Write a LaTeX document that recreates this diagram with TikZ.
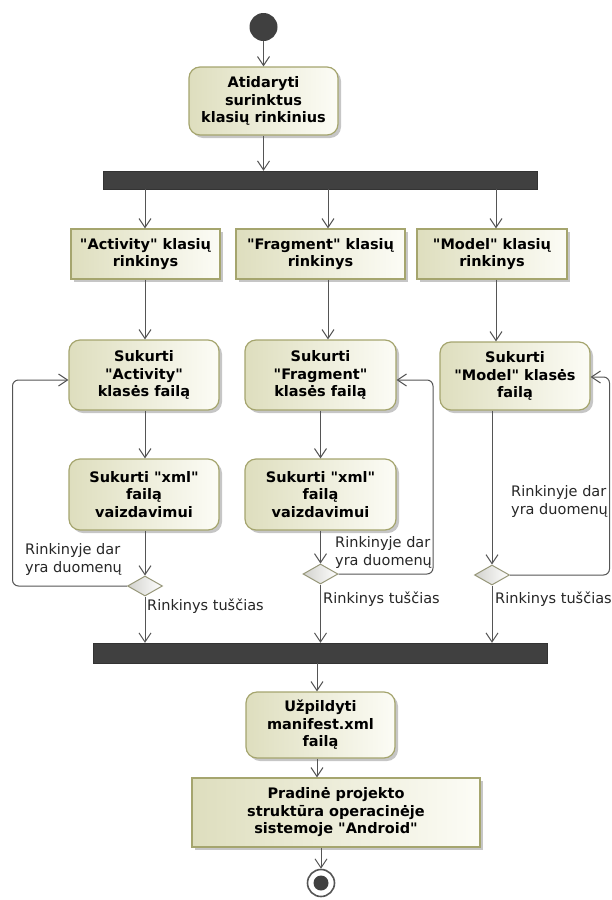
\documentclass[tikz,border=0pt]{standalone}
\usepackage{fontspec}
% plain straight quotes: no TeX ligature mapping on this family
\newfontfamily\diagfont{DejaVu Sans}
\usetikzlibrary{arrows.meta,shapes.geometric,shadows}

\definecolor{actL}{RGB}{222,222,190}
\definecolor{actR}{RGB}{252,252,246}
\definecolor{actLine}{RGB}{165,165,110}
\definecolor{lineGray}{RGB}{85,85,85}
\definecolor{barFill}{RGB}{64,64,64}
\definecolor{shadowGray}{RGB}{198,198,198}
\definecolor{decL}{RGB}{210,210,205}
\definecolor{decLine}{RGB}{150,150,120}

\tikzset{
  boxbase/.style={draw=actLine, line width=1.2pt, left color=actL, right color=actR,
    inner sep=0pt, align=center, text=black,
    font=\diagfont\bfseries\fontsize{14.5}{17.5}\selectfont,
    drop shadow={shadow xshift=3pt, shadow yshift=-3pt, fill=shadowGray, opacity=1}},
  action/.style={boxbase, rounded corners=11pt},
  objbox/.style={boxbase},
  syncbar/.style={fill=barFill, draw=barFill!80!black, inner sep=0pt},
  decision/.style={diamond, draw=decLine, line width=1pt, left color=decL, right color=white,
    inner sep=0pt, minimum width=35pt, minimum height=20pt},
  flow/.style={draw=lineGray, line width=1pt, -{Straight Barb[length=9pt,width=12pt,line width=1pt]}},
  loopflow/.style={flow, rounded corners=6pt},
  guard/.style={inner sep=0pt, align=left, text=black!85, font=\diagfont\fontsize{14.5}{18}\selectfont},
}

\begin{document}
\begin{tikzpicture}[x=1pt, y=-1pt]
\useasboundingbox (0,0) rectangle (611,900);

% start
\node[circle, fill=barFill, minimum size=28pt, inner sep=0pt] (start) at (263.5,27) {};

% opening the collected class sets
\node[action, minimum width=149pt, minimum height=68pt] (open) at (263.5,101)
  {Atidaryti\\surinktus\\klasių rinkinius};

% fork
\node[syncbar, minimum width=434pt, minimum height=18pt] (fork) at (320,180) {};

% class sets
\node[objbox, minimum width=149pt, minimum height=50pt] (aset) at (145.5,254)
  {"Activity" klasių\\rinkinys};
\node[objbox, minimum width=169pt, minimum height=50pt] (fset) at (320.5,254)
  {"Fragment" klasių\\rinkinys};
\node[objbox, minimum width=150pt, minimum height=50pt] (mset) at (492,254)
  {"Model" klasių\\rinkinys};

% class file actions
\node[action, minimum width=150pt, minimum height=70pt] (asuk) at (144,375)
  {Sukurti\\"Activity"\\klasės failą};
\node[action, minimum width=151pt, minimum height=70pt] (fsuk) at (320.5,375)
  {Sukurti\\"Fragment"\\klasės failą};
\node[action, minimum width=150pt, minimum height=68pt] (msuk) at (515,376)
  {Sukurti\\"Model" klasės\\failą};

% layout xml actions
\node[action, minimum width=150pt, minimum height=71pt] (axml) at (144,494.5)
  {Sukurti "xml"\\failą\\vaizdavimui};
\node[action, minimum width=151pt, minimum height=71pt] (fxml) at (320.5,494.5)
  {Sukurti "xml"\\failą\\vaizdavimui};

% decisions
\node[decision] (adec) at (145,586) {};
\node[decision] (fdec) at (320.5,574) {};
\node[decision] (mdec) at (492,575) {};

% join
\node[syncbar, minimum width=454pt, minimum height=20pt] (join) at (320,653) {};

% manifest and result
\node[action, minimum width=149pt, minimum height=66pt] (manifest) at (320.5,725)
  {Užpildyti\\manifest.xml\\failą};
\node[objbox, minimum width=288pt, minimum height=69pt] (result) at (336,812.5)
  {Pradinė projekto\\struktūra operacinėje\\sistemoje "Android"};

% final node
\node[circle, draw=lineGray, line width=1.6pt, fill=white, minimum size=27pt, inner sep=0pt] (final) at (321,883) {};
\node[circle, fill=barFill, minimum size=15pt, inner sep=0pt] (finalDot) at (final.center) {};

% column positions of the connectors
\coordinate (cC) at (263.5,0);
\coordinate (cA) at (145,0);
\coordinate (cF) at (328,0);
\coordinate (cF2) at (320.5,0);
\coordinate (cM) at (496,0);
\coordinate (cM2) at (492,0);
\coordinate (cE) at (317,0);
\coordinate (cE2) at (321,0);

% main flow
\draw[flow] (start.south) -- (open.north -| cC);
\draw[flow] (open.south -| cC) -- (fork.north -| cC);

\draw[flow] (fork.south -| cA) -- (aset.north -| cA);
\draw[flow] (fork.south -| cF) -- (fset.north -| cF);
\draw[flow] (fork.south -| cM) -- (mset.north -| cM);

\draw[flow] (aset.south -| cA) -- (asuk.north -| cA);
\draw[flow] (fset.south -| cF) -- (fsuk.north -| cF);
\draw[flow] (mset.south -| cM) -- (msuk.north -| cM);

\draw[flow] (asuk.south -| cA) -- (axml.north -| cA);
\draw[flow] (fsuk.south -| cF2) -- (fxml.north -| cF2);
\draw[flow] (msuk.south -| cM2) -- (mdec.north);

\draw[flow] (axml.south -| cA) -- (adec.north);
\draw[flow] (fxml.south -| cF2) -- (fdec.north);

\draw[flow] (adec.south) -- (join.north -| adec);
\draw[flow] (fdec.south) -- (join.north -| fdec);
\draw[flow] (mdec.south) -- (join.north -| mdec);

\draw[flow] (join.south -| cE) -- (manifest.north -| cE);
\draw[flow] (manifest.south -| cE) -- (result.north -| cE);
\draw[flow] (result.south -| cE2) -- (final.north);

% loops back while the set still has data
\coordinate (la1) at (12.5,586);
\coordinate (la2) at (12.5,380);
\draw[loopflow] (adec.west) -- (la1) -- (la2) -- (asuk.west |- la2);

\coordinate (lf1) at (433,574);
\coordinate (lf2) at (433,380);
\draw[loopflow] (fdec.east) -- (lf1) -- (lf2) -- (fsuk.east |- lf2);

\coordinate (lm1) at (609.5,575);
\coordinate (lm2) at (609.5,377);
\draw[loopflow] (mdec.east) -- (lm1) -- (lm2) -- (msuk.east |- lm2);

% guards
\node[guard, anchor=west] (ga1) at (25,559) {Rinkinyje dar\\yra duomenų};
\node[guard, anchor=west] (ga2) at (147,606) {Rinkinys tuščias};
\node[guard, anchor=west] (gf1) at (335,552.5) {Rinkinyje dar\\yra duomenų};
\node[guard, anchor=west] (gf2) at (323,599) {Rinkinys tuščias};
\node[guard, anchor=west] (gm1) at (511,501.5) {Rinkinyje dar\\yra duomenų};
\node[guard, anchor=west] (gm2) at (495,599) {Rinkinys tuščias};
\end{tikzpicture}
\end{document}
